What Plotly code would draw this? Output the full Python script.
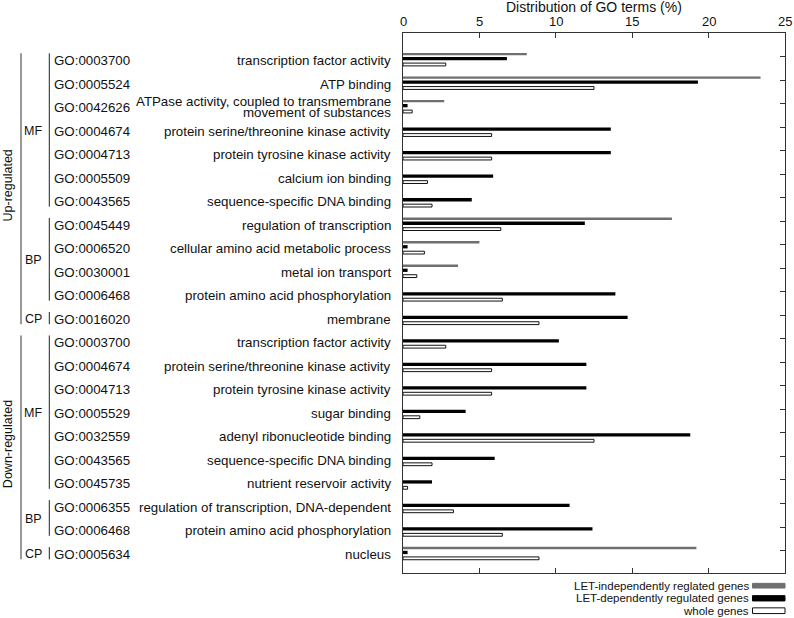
import plotly.graph_objects as go

# ---------------- data ----------------
go_ids = [
    "GO:0003700", "GO:0005524", "GO:0042626", "GO:0004674", "GO:0004713",
    "GO:0005509", "GO:0043565", "GO:0045449", "GO:0006520", "GO:0030001",
    "GO:0006468", "GO:0016020",
    "GO:0003700", "GO:0004674", "GO:0004713", "GO:0005529", "GO:0032559",
    "GO:0043565", "GO:0045735", "GO:0006355", "GO:0006468", "GO:0005634",
]
terms = [
    "transcription factor activity",
    "ATP binding",
    "ATPase activity, coupled to transmembrane\nmovement of substances",
    "protein serine/threonine kinase activity",
    "protein tyrosine kinase activity",
    "calcium ion binding",
    "sequence-specific DNA binding",
    "regulation of transcription",
    "cellular amino acid metabolic process",
    "metal ion transport",
    "protein amino acid phosphorylation",
    "membrane",
    "transcription factor activity",
    "protein serine/threonine kinase activity",
    "protein tyrosine kinase activity",
    "sugar binding",
    "adenyl ribonucleotide binding",
    "sequence-specific DNA binding",
    "nutrient reservoir activity",
    "regulation of transcription, DNA-dependent",
    "protein amino acid phosphorylation",
    "nucleus",
]
regulation = ["Up-regulated"] * 12 + ["Down-regulated"] * 10
ontology = ["MF"] * 7 + ["BP"] * 4 + ["CP"] + ["MF"] * 7 + ["BP"] * 2 + ["CP"]

let_independent = [8.1, 23.4, 2.7, 0, 0, 0, 0, 17.6, 5.0, 3.6, 0, 0,
                   0, 0, 0, 0, 0, 0, 0, 0, 0, 19.2]
let_dependent = [6.8, 19.3, 0.3, 13.6, 13.6, 5.9, 4.5, 11.9, 0.3, 0.3, 13.9, 14.7,
                 10.2, 12.0, 12.0, 4.1, 18.8, 6.0, 1.9, 10.9, 12.4, 0.3]
whole_genes = [2.8, 12.5, 0.6, 5.8, 5.8, 1.6, 1.9, 6.4, 1.4, 0.9, 6.5, 8.9,
               2.8, 5.8, 5.8, 1.1, 12.5, 1.9, 0.3, 3.3, 6.5, 8.9]

series_names = ["LET-independently reglated genes",
                "LET-dependently regulated genes",
                "whole genes"]
x_ticks = [0, 5, 10, 15, 20, 25]
x_title = "Distribution of GO terms (%)"

# ---------------- layout helpers ----------------
W, H = 794, 618
L, R, T, B = 403, 9, 33, 45
PW = W - L - R
PH = H - T - B


def px(xpix):
    return (xpix - L) / PW


def py(ypix):
    return (H - B - ypix) / PH


FONT = "Liberation Sans, Arial, sans-serif"
LBL = 13.3
rows = list(range(len(go_ids)))

fig = go.Figure()
fig.add_trace(go.Bar(y=rows, x=let_independent, orientation="h",
                     marker=dict(color="#6f6f6f", line=dict(width=0)),
                     width=0.1, offset=-0.284, name=series_names[0],
                     showlegend=False))
fig.add_trace(go.Bar(y=rows, x=let_dependent, orientation="h",
                     marker=dict(color="#000000", line=dict(width=0)),
                     width=0.14, offset=-0.113, name=series_names[1],
                     showlegend=False))
fig.add_trace(go.Bar(y=rows, x=whole_genes, orientation="h",
                     marker=dict(color="#ffffff", line=dict(color="#111111", width=1)),
                     width=0.12, offset=0.146, name=series_names[2],
                     showlegend=False))

annotations = []
shapes = []

# axis title (top)
annotations.append(dict(x=0.5, y=py(7.5), xref="paper", yref="paper",
                        text=x_title, showarrow=False, xanchor="center",
                        yanchor="middle", font=dict(size=14, family=FONT, color="#111")))

# top tick labels, placed at the axis values
for v in x_ticks:
    annotations.append(dict(x=v, y=py(21.5), xref="x", yref="paper",
                            text=str(v), showarrow=False, xanchor="center",
                            yanchor="middle", font=dict(size=13, family=FONT, color="#111")))

# row labels
for i, (gid, term) in enumerate(zip(go_ids, terms)):
    annotations.append(dict(x=px(52.3), y=i + 0.04, xref="paper", yref="y",
                            text=gid, showarrow=False, xanchor="left",
                            yanchor="middle", font=dict(size=LBL, family=FONT, color="#111")))
    lines = term.split("\n")
    n = len(lines)
    for k, line in enumerate(lines):
        off = 0.04 if n == 1 else (k - (n - 1) / 2) * 0.46
        annotations.append(dict(x=px(392.7), y=i + off, xref="paper", yref="y",
                                text=line, showarrow=False, xanchor="right",
                                yanchor="middle", font=dict(size=LBL, family=FONT, color="#111")))


def runs(labels, parent=None):
    out = []
    start = 0
    for i in range(1, len(labels) + 1):
        if i == len(labels) or labels[i] != labels[start] or \
                (parent is not None and parent[i] != parent[start]):
            out.append((labels[start], start, i - 1))
            start = i
    return out


# ontology brackets
for lab, a, b in runs(ontology, regulation):
    shapes.append(dict(type="line", xref="paper", yref="y",
                       x0=px(49.3), x1=px(49.3), y0=a - 0.27, y1=b + 0.25,
                       line=dict(color="#222", width=1)))
    annotations.append(dict(x=px(44), y=(a + b) / 2 + 0.04, xref="paper", yref="y",
                            text=lab, showarrow=False, xanchor="right", yanchor="middle",
                            font=dict(size=12.5, family=FONT, color="#111")))

# regulation brackets
for lab, a, b in runs(regulation):
    shapes.append(dict(type="line", xref="paper", yref="y",
                       x0=px(21), x1=px(21), y0=a - 0.27, y1=b + 0.25,
                       line=dict(color="#777", width=1.5)))
    annotations.append(dict(x=px(8), y=(a + b) / 2 - 0.15, xref="paper", yref="y",
                            text=lab, showarrow=False, textangle=-90,
                            xanchor="center", yanchor="middle",
                            font=dict(size=12.5, family=FONT, color="#111")))

# legend (text + swatches)
leg_y = [585.7, 598.3, 610.7]
leg_h = [4.7, 5.3, 5.7]
leg_fill = ["#6f6f6f", "#000000", "#ffffff"]
leg_line = ["#6f6f6f", "#000000", "#111111"]
for name, yy, hh, fc, lc in zip(series_names, leg_y, leg_h, leg_fill, leg_line):
    annotations.append(dict(x=px(750.5), y=py(yy), xref="paper", yref="paper",
                            text=name, showarrow=False, xanchor="right", yanchor="middle",
                            font=dict(size=11.5, family=FONT, color="#111")))
    shapes.append(dict(type="rect", xref="paper", yref="paper",
                       x0=px(752.5), x1=px(785), y0=py(yy + hh / 2), y1=py(yy - hh / 2),
                       fillcolor=fc, line=dict(color=lc, width=1)))

fig.update_layout(
    width=W, height=H,
    margin=dict(l=L, r=R, t=T, b=B, autoexpand=False),
    paper_bgcolor="white", plot_bgcolor="white",
    barmode="overlay",
    font=dict(family=FONT, size=12, color="#111"),
    annotations=annotations, shapes=shapes,
    showlegend=False,
    xaxis=dict(range=[0, 25], side="top", tickvals=x_ticks,
               showticklabels=False,
               ticks="inside", ticklen=5, tickcolor="#333",
               showline=True, linecolor="#333", linewidth=1, mirror="ticks",
               showgrid=False, zeroline=False, automargin=False),
    yaxis=dict(range=[21.83, -1.133], side="right",
               tickvals=[r - 0.125 for r in rows], showticklabels=False,
               ticks="inside", ticklen=5, tickcolor="#333",
               showline=True, linecolor="#333", linewidth=1, mirror=True,
               showgrid=False, zeroline=False, automargin=False),
)

fig.write_html("out.html", config={"displayModeBar": False},
               post_script="document.body.style.margin='0';document.body.style.overflow='hidden';")
